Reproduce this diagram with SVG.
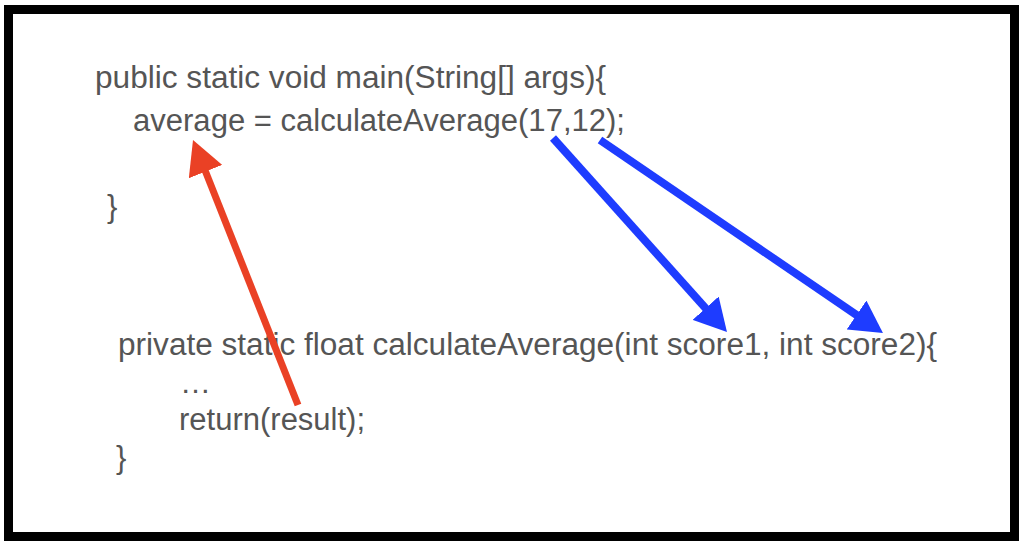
<svg xmlns="http://www.w3.org/2000/svg" width="1024" height="555" viewBox="0 0 1024 555">
  <style>
    .code { font-family: "Liberation Sans", Arial, Helvetica, sans-serif; font-size: 31px; fill: #555555; }
    .red { stroke: #EA4125; stroke-width: 7; fill: none; stroke-linecap: butt; }
    .blue { stroke: #1E3CFF; stroke-width: 8; fill: none; stroke-linecap: butt; }
  </style>
  <defs>
    <marker id="headRed" viewBox="0 0 34 36" markerWidth="34" markerHeight="36" refX="24" refY="18" orient="auto" markerUnits="userSpaceOnUse">
      <path d="M0,0 L34,18 L0,36 z" fill="#EA4125"/>
    </marker>
    <marker id="headBlue" viewBox="0 0 32 35" markerWidth="32" markerHeight="35" refX="22" refY="17.5" orient="auto" markerUnits="userSpaceOnUse">
      <path d="M0,0 L32,17.5 L0,35 z" fill="#1E3CFF"/>
    </marker>
  </defs>
  <rect x="0" y="0" width="1024" height="555" fill="#ffffff"/>
  <rect id="frame" x="8.5" y="9.5" width="1006" height="527" fill="#ffffff" stroke="#000000" stroke-width="9"/>

  <g id="main-method">
    <text class="code" x="95" y="88" textLength="511" lengthAdjust="spacingAndGlyphs">public static void main(String[] args){</text>
    <text class="code" x="133" y="131" textLength="492" lengthAdjust="spacingAndGlyphs">average = calculateAverage(17,12);</text>
    <text class="code" x="107" y="217">}</text>
  </g>

  <g id="calculate-method">
    <text class="code" x="118" y="355" textLength="819" lengthAdjust="spacingAndGlyphs">private static float calculateAverage(int score1, int score2){</text>
    <text class="code" x="180" y="393">…</text>
    <text class="code" x="179" y="430">return(result);</text>
    <text class="code" x="116" y="468">}</text>
  </g>

  <g id="connectors">
    <line class="red" x1="298" y1="405" x2="196.7" y2="149.3" marker-end="url(#headRed)"/>
    <line class="blue" x1="553" y1="138" x2="720.3" y2="324.6" marker-end="url(#headBlue)"/>
    <line class="blue" x1="600" y1="140" x2="874.7" y2="327.4" marker-end="url(#headBlue)"/>
  </g>
</svg>
